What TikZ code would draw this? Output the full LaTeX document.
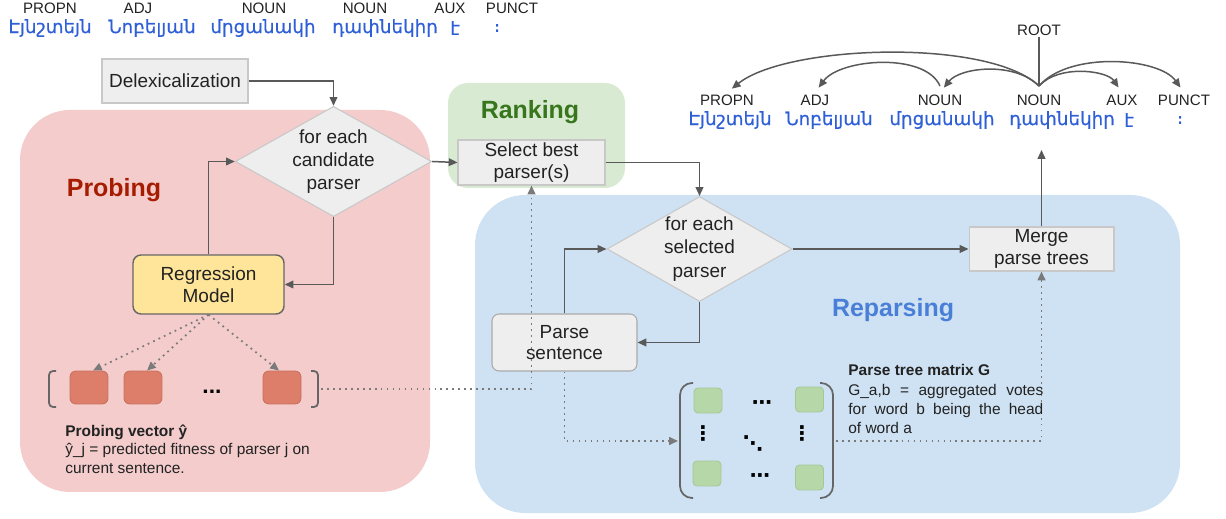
\documentclass[tikz,border=0pt]{standalone}
\usepackage{fontspec}
\setmainfont{Liberation Sans}
\newfontfamily\armfont[FakeBold=0.5]{DejaVu Sans}
\newfontfamily\dotfont{DejaVu Sans Bold}
\usetikzlibrary{arrows.meta,shapes.geometric}
\definecolor{probefill}{HTML}{F4CCCC}
\definecolor{rankfill}{HTML}{D9EAD3}
\definecolor{reparsefill}{HTML}{CFE2F3}
\definecolor{boxfill}{HTML}{EEEEEE}
\definecolor{boxborder}{HTML}{C8C8C8}
\definecolor{arrowgray}{HTML}{595959}
\definecolor{dotgray}{HTML}{7A7A7A}
\definecolor{probetxt}{HTML}{A61C00}
\definecolor{ranktxt}{HTML}{38761D}
\definecolor{reparsetxt}{HTML}{4A7FD8}
\definecolor{regfill}{HTML}{FFE599}
\definecolor{regborder}{HTML}{666666}
\definecolor{redsqfill}{HTML}{DD7E6B}
\definecolor{redsqborder}{HTML}{C9705F}
\definecolor{greensqfill}{HTML}{B6D7A8}
\definecolor{greensqborder}{HTML}{A5C797}
\definecolor{armblue}{HTML}{2F5FD6}
\definecolor{darktxt}{HTML}{222222}
\begin{document}
\begin{tikzpicture}[x=0.02cm,y=-0.02cm,
  procbox/.style={draw=boxborder, fill=boxfill, line width=0.6pt, align=center, inner sep=0pt,
    text=darktxt, font=\fontsize{10.8}{12.4}\selectfont},
  decision/.style={diamond, draw=boxborder, fill=boxfill, line width=0.6pt, align=center, inner sep=0pt,
    text=darktxt, font=\fontsize{10.8}{13.2}\selectfont},
  arr/.style={draw=arrowgray, line width=0.85pt, -{Triangle[length=5pt,width=4.4pt]}},
  dotarr/.style={draw=dotgray, line width=1pt, dash pattern=on 1pt off 2.4pt, -{Triangle[length=5pt,width=4.4pt]}},
  treearr/.style={draw=arrowgray, line width=0.85pt, -{Triangle[length=5pt,width=4.4pt]}, shorten >=3.5pt},
  tag/.style={inner sep=1pt, text=darktxt, font=\fontsize{8.6}{9.5}\selectfont},
  armword/.style={inner sep=1pt, text=armblue, font=\armfont\fontsize{10.4}{12}\selectfont},
  region label/.style={font=\bfseries\fontsize{14.2}{16}\selectfont},
  redsq/.style={draw=redsqborder, fill=redsqfill, line width=0.5pt, minimum width=0.76cm, minimum height=0.66cm, rounded corners=0.12cm, inner sep=0pt},
  greensq/.style={draw=greensqborder, fill=greensqfill, line width=0.5pt, minimum width=0.56cm, minimum height=0.5cm, rounded corners=0.08cm, inner sep=0pt},
  brk/.style={draw=regborder, line width=1pt},
  small/.style={inner sep=0pt, anchor=base west, text=darktxt, font=\fontsize{8.8}{10.5}\selectfont},
  mdots/.style={inner sep=0pt, text=black, font=\dotfont\fontsize{11.5}{11.5}\selectfont}
]
\useasboundingbox (0,0) rectangle (1226,519);

% regions
\fill[probefill, rounded corners=1cm] (20,110) rectangle (430,492);
\fill[rankfill, rounded corners=0.4cm] (448,83) rectangle (625,188);
\fill[reparsefill, rounded corners=1cm] (475,195) rectangle (1180,513);

\node[region label, text=probetxt] (lprobe) at (114,190) {Probing};
\node[region label, text=ranktxt] (lrank) at (530,112) {Ranking};
\node[region label, text=reparsetxt] (lrep) at (893,310) {Reparsing};

% top-left sentence
\node[tag] (p1) at (50,8) {PROPN};
\node[tag] (p2) at (138,8) {ADJ};
\node[tag] (p3) at (264,8) {NOUN};
\node[tag] (p4) at (365,8) {NOUN};
\node[tag] (p5) at (450,8) {AUX};
\node[tag] (p6) at (512,8) {PUNCT};
\node[armword] (w1) at (50,28) {Էյնշտեյն};
\node[armword] (w2) at (152,28) {Նոբելյան};
\node[armword] (w3) at (263,28) {մրցանակի};
\node[armword] (w4) at (385,28) {դափնեկիր};
\node[armword] (w5) at (455,28) {է};
\node[armword] (w6) at (497,28) {։};

% top-right tree
\node[tag] (root) at (1039,30) {ROOT};
\coordinate (head) at (1039,86);
\node[tag] (q1) at (727,100) {PROPN};
\node[tag] (q2) at (815,100) {ADJ};
\node[tag] (q3) at (940,100) {NOUN};
\node[tag] (q4) at (1039,100) {NOUN};
\node[tag] (q5) at (1122,100) {AUX};
\node[tag] (q6) at (1184,100) {PUNCT};
\node[armword] (v1) at (730,120) {Էյնշտեյն};
\node[armword] (v2) at (829,120) {Նոբելյան};
\node[armword] (v3) at (942,120) {մրցանակի};
\node[armword] (v4) at (1062,120) {դափնեկիր};
\node[armword] (v5) at (1129,120) {է};
\node[armword] (v6) at (1180,120) {։};
\coordinate (nhead) at (940,86);

\draw[draw=arrowgray, line width=0.85pt] (root.south) -- (head);
\draw[treearr] (head) .. controls +(-50,-48) and +(60,-48) .. (q1.north);
\draw[treearr] (nhead) .. controls +(-15,-34) and +(25,-34) .. (q2.north);
\draw[treearr] (head) .. controls +(-25,-25) and +(20,-25) .. (q3.north);
\draw[treearr] (head) .. controls +(20,-22) and +(-15,-22) .. (q5.north);
\draw[treearr] (head) .. controls +(30,-35) and +(-25,-35) .. (q6.north);

% process nodes
\node[procbox, minimum width=2.92cm, minimum height=0.88cm] (delex) at (175,81) {Delexicalization};
\node[decision, minimum width=3.66cm, minimum height=2.06cm, aspect=1.78] (d1) at (333.5,161.5) {for each\\candidate\\parser};
\node[procbox, minimum width=2.94cm, minimum height=0.9cm] (sel) at (531.5,162.5) {Select best\\parser(s)};
\node[decision, minimum width=3.7cm, minimum height=2.1cm, aspect=1.76] (d2) at (699.5,249) {for each\\selected\\parser};
\node[procbox, minimum width=2.9cm, minimum height=0.88cm] (merge) at (1041.5,249) {Merge\\parse trees};
\node[procbox, draw=boxborder!85!black, rounded corners=0.14cm, minimum width=2.9cm, minimum height=1.14cm] (parse) at (564.5,342.5) {Parse\\sentence};
\node[procbox, draw=regborder, fill=regfill, line width=0.8pt, rounded corners=0.16cm, minimum width=3.02cm, minimum height=1.18cm] (reg) at (208.5,284.5) {Regression\\Model};
\coordinate (treein) at (1041.5,150);

% solid connectors
\draw[arr] (delex.east) -| (d1.north);
\draw[arr] (d1.east) -- (sel.west);
\draw[arr] (sel.east) -| (d2.north);
\draw[arr] (d2.east) -- (merge.west);
\draw[arr] (merge.north) -- (treein);
\draw[arr] (d2.south) |- (parse.east);
\draw[arr] (parse.north) |- (d2.west);
\draw[arr] (d1.south) |- (reg.east);
\draw[arr] (reg.north) |- (d1.west);

% probing vector
\node[redsq] (sq1) at (89,387.5) {};
\node[redsq] (sq2) at (143,387.5) {};
\node[redsq] (sq3) at (282,387.5) {};
\node[inner sep=0pt, font=\bfseries\fontsize{13}{14}\selectfont] (pdots) at (212,392) {...};
\draw[brk, rounded corners=0.08cm] (56,371) -- (49,371) -- (49,407) -- (56,407);
\draw[brk, rounded corners=0.08cm] (311,371) -- (318,371) -- (318,407) -- (311,407);
\coordinate (pvr) at (321,389);
\draw[dotarr] (reg.south) -- ([xshift=0.08cm]sq1.north);
\draw[dotarr] (reg.south) -- ([xshift=0.08cm]sq2.north);
\draw[dotarr] (reg.south) -- ([xshift=-0.06cm]sq3.north);
\draw[dotarr] (pvr) -| (sel.south);

\node[small] (pv1) at (65,436.5) {\textbf{Probing vector ŷ}};
\node[small] (pv2) at (65,455) {ŷ\_j = predicted fitness of parser j on};
\node[small] (pv3) at (65,473.5) {current sentence.};

% matrix
\node[greensq] (g11) at (708,400.5) {};
\node[greensq] (g1n) at (809.5,399.5) {};
\node[greensq] (gn1) at (707,473.5) {};
\node[greensq] (gnn) at (809.5,477.5) {};
\node[mdots] (cd1) at (762,405) {⋯};
\node[mdots] (cd2) at (760,478) {⋯};
\node[mdots] (vd1) at (703,433) {⋮};
\node[mdots] (vd2) at (802,433) {⋮};
\node[mdots] (dd) at (753,443) {⋱};
\draw[brk, rounded corners=0.24cm] (693,383) -- (680,383) -- (680,498) -- (693,498);
\draw[brk, rounded corners=0.24cm] (820,383) -- (833,383) -- (833,498) -- (820,498);
\coordinate (mL) at (678,441);
\coordinate (mR) at (836,441);
\draw[dotarr] (parse.south) |- (mL);
\draw[dotarr] (mR) -| (merge.south);

\node[small] (mt1) at (848,376) {\textbf{Parse tree matrix G}};
\node[small] (mt2) at (848,396) {\makebox[3.9cm][s]{G\_a,b = aggregated votes}};
\node[small] (mt3) at (848,415) {\makebox[3.9cm][s]{for word b being the head}};
\node[small] (mt4) at (848,434) {of word a};
\end{tikzpicture}
\end{document}
